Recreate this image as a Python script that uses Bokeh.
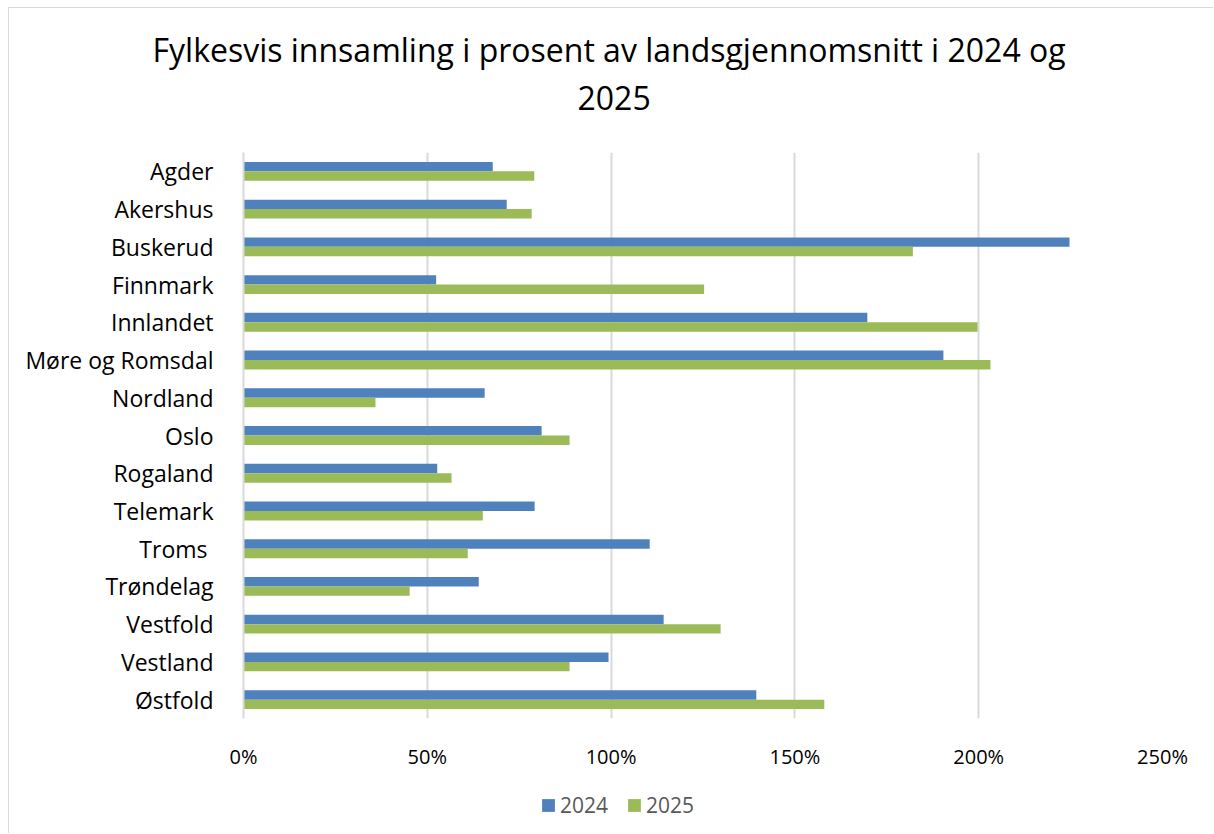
from bokeh.plotting import figure
from bokeh.layouts import column
from bokeh.models import (FactorRange, Range1d, NumeralTickFormatter, FixedTicker,
                          Title, Legend, LegendItem, ColumnDataSource)
from bokeh.transform import dodge
from bokeh.embed import file_html
from bokeh.resources import INLINE

categories = ["Agder", "Akershus", "Buskerud", "Finnmark", "Innlandet",
              "Møre og Romsdal", "Nordland", "Oslo", "Rogaland", "Telemark",
              "Troms ", "Trøndelag", "Vestfold", "Vestland", "Østfold"]
v2024 = [0.678, 0.716, 2.247, 0.524, 1.697, 1.904, 0.656, 0.811, 0.527, 0.792,
         1.105, 0.640, 1.143, 0.993, 1.395]
v2025 = [0.791, 0.784, 1.821, 1.253, 1.997, 2.032, 0.359, 0.887, 0.566, 0.651,
         0.610, 0.452, 1.298, 0.887, 1.580]
series_names = ["2024", "2025"]
x_ticks = [0, 0.5, 1.0, 1.5, 2.0, 2.5]
title_lines = ["Fylkesvis innsamling i prosent av landsgjennomsnitt i 2024 og", "2025"]

BLUE = "#4F81BD"
GREEN = "#9BBB59"
GRID = "#D9D9D9"
FONT = "Open Sans"

src = ColumnDataSource(dict(cat=categories, a=v2024, b=v2025))

p = figure(width=1205, height=780, output_backend="svg", toolbar_location=None,
           y_range=FactorRange(factors=list(reversed(categories))),
           x_range=Range1d(0, 2.5),
           min_border_left=234, min_border_right=52, min_border_top=144,
           min_border_bottom=70)
p.styles = {"margin-left": "8px", "margin-top": "7px",
            "border-top": "1px solid #d9d9d9", "border-left": "1px solid #d9d9d9"}
p.outline_line_color = None
p.background_fill_color = "white"
p.border_fill_color = "white"

p.hbar(y=dodge("cat", 0.125, range=p.y_range), right="a", left=0, height=0.25,
       source=src, fill_color=BLUE, line_color=None)
p.hbar(y=dodge("cat", -0.125, range=p.y_range), right="b", left=0, height=0.25,
       source=src, fill_color=GREEN, line_color=None)

# axes
p.xaxis.ticker = FixedTicker(ticks=x_ticks)
p.xaxis.formatter = NumeralTickFormatter(format="0%")
p.xaxis.axis_line_color = None
p.xaxis.major_tick_line_color = None
p.xaxis.minor_tick_line_color = None
p.xaxis.major_label_text_font = FONT
p.xaxis.major_label_text_font_size = "20px"
p.xaxis.major_label_text_color = "black"
p.xaxis.major_label_standoff = 18

p.yaxis.axis_line_color = GRID
p.yaxis.axis_line_width = 2
p.yaxis.major_tick_line_color = None
p.yaxis.minor_tick_line_color = None
p.yaxis.major_label_text_font = FONT
p.yaxis.major_label_text_font_size = "23px"
p.yaxis.major_label_text_color = "black"
p.yaxis.major_label_standoff = 24

p.xgrid.ticker = FixedTicker(ticks=x_ticks)
p.xgrid.grid_line_color = GRID
p.xgrid.grid_line_width = 2
p.ygrid.grid_line_color = None

# title (two lines; the first added sits nearest the frame)
p.add_layout(Title(text=title_lines[1], align="left", offset=334,
                   text_font=FONT, text_font_size="32px", text_color="black",
                   text_font_style="normal", standoff=86), "above")
p.add_layout(Title(text=title_lines[0], align="left", offset=-91,
                   text_font=FONT, text_font_size="32px", text_color="black",
                   text_font_style="normal", standoff=-60), "above")

# legend strip below the chart (its renderers are hidden; only the legend shows)
q = figure(width=1205, height=46, output_backend="svg", toolbar_location=None,
           x_range=Range1d(0, 2.5), y_range=FactorRange(factors=categories),
           x_axis_type=None, y_axis_type=None,
           min_border_left=13, min_border_right=0, min_border_top=0,
           min_border_bottom=0)
q.styles = {"margin-left": "8px", "border-left": "1px solid #d9d9d9"}
q.outline_line_color = None
q.grid.visible = False
q.border_fill_color = "white"
l1 = q.hbar(y="cat", right="a", left=0, height=0.25, source=src,
            fill_color=BLUE, line_color=None, visible=False)
l2 = q.hbar(y="cat", right="b", left=0, height=0.25, source=src,
            fill_color=GREEN, line_color=None, visible=False)
legend = Legend(items=[LegendItem(label=series_names[0], renderers=[l1]),
                       LegendItem(label=series_names[1], renderers=[l2])],
                location=(297, 14), orientation="horizontal",
                glyph_width=16, glyph_height=16, label_standoff=4, spacing=18,
                padding=0, margin=0, border_line_color=None,
                background_fill_alpha=0, inactive_fill_alpha=0,
                label_text_font=FONT, label_text_font_size="21px",
                label_text_color="#595959")
q.add_layout(legend, "center")

layout = column(p, q, spacing=0)
open("out.html", "w").write(file_html(layout, INLINE))
